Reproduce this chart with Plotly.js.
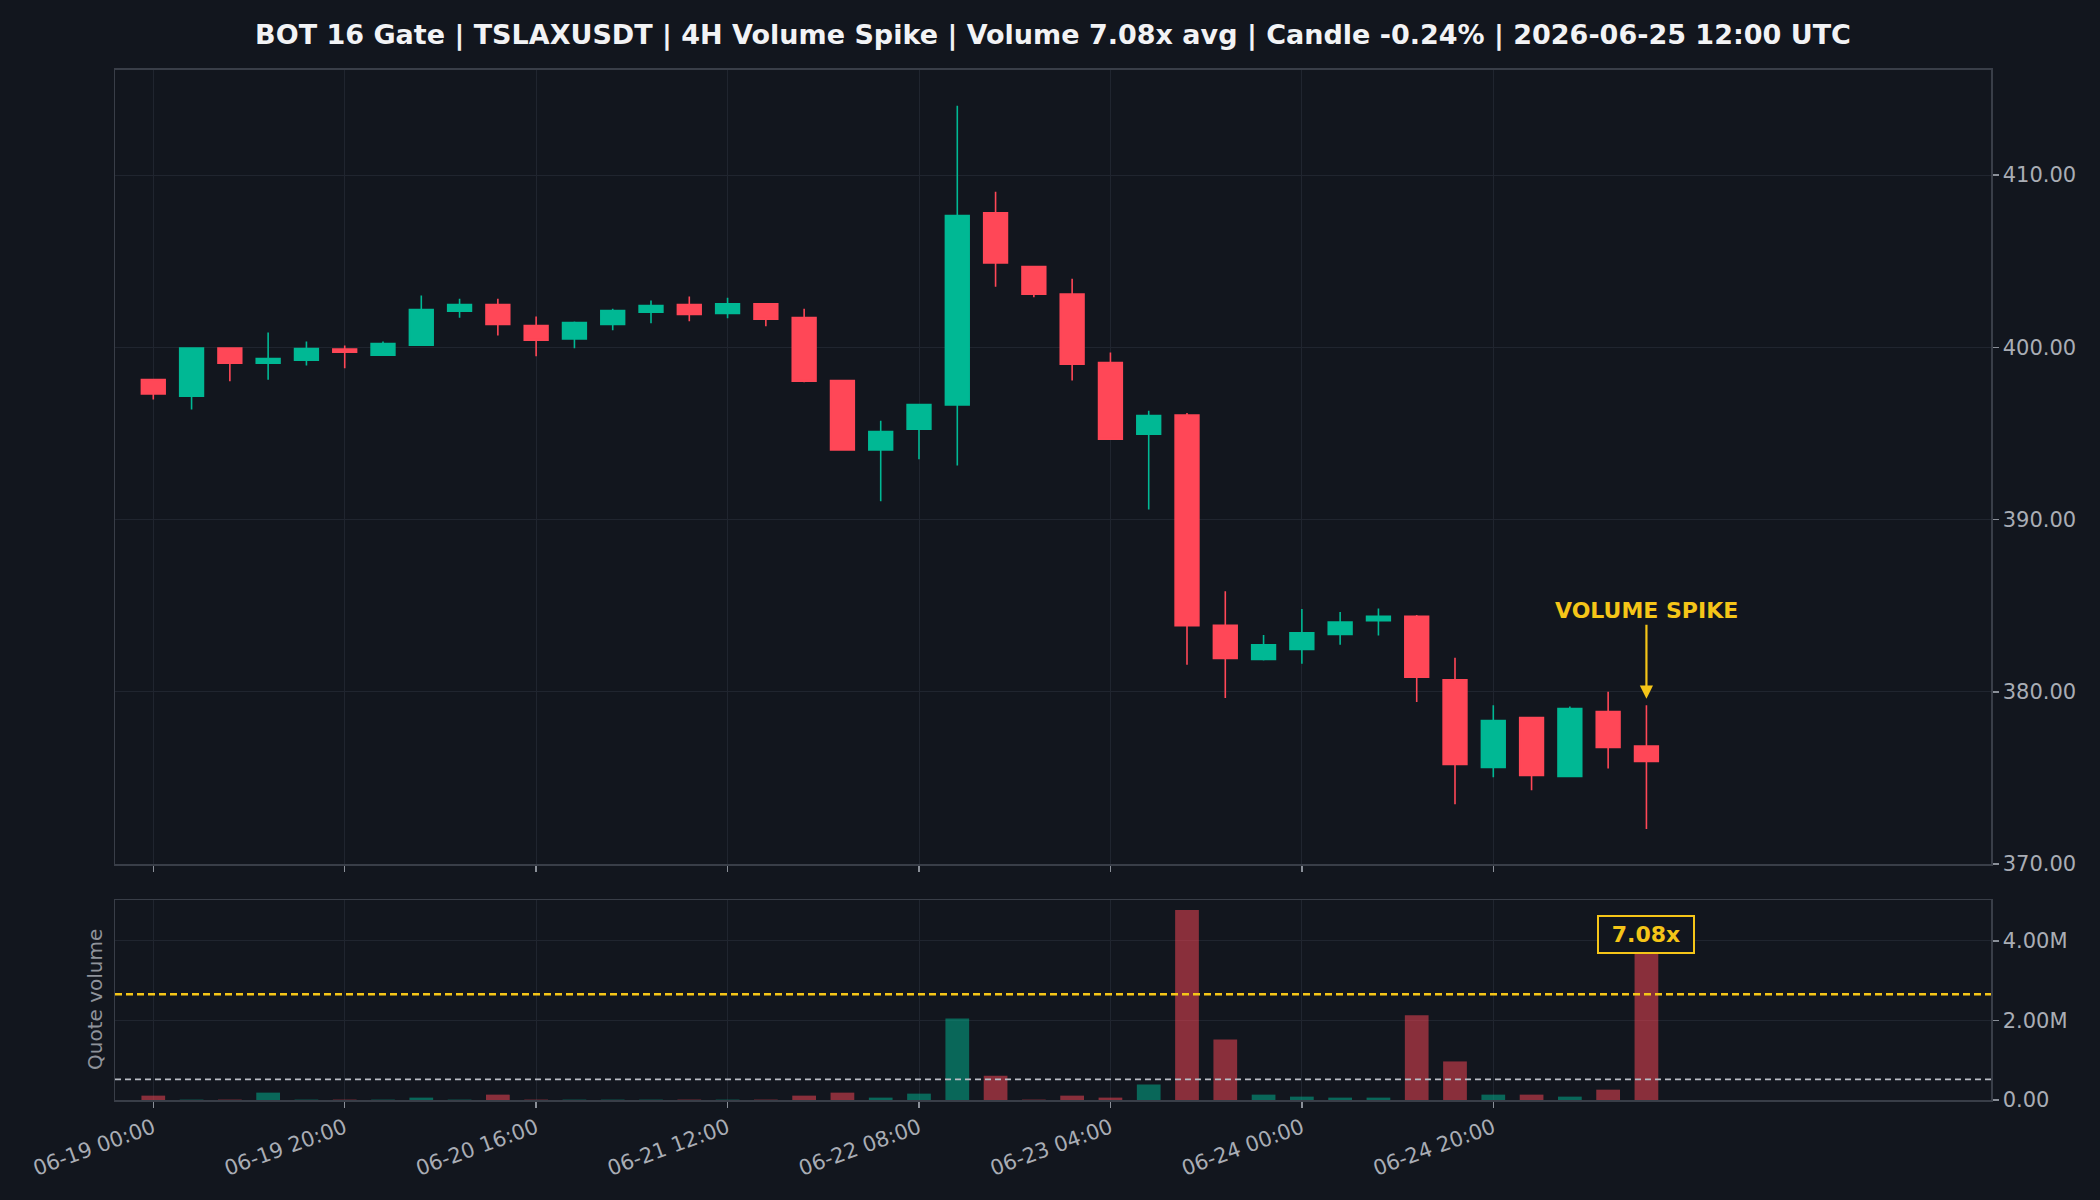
<!DOCTYPE html>
<html>
<head>
<meta charset="utf-8">
<script src="https://cdn.plot.ly/plotly-3.0.1.min.js"></script>
<style>
  html, body { margin: 0; padding: 0; background: #12161e; }
  #chart { width: 2100px; height: 1200px; }
</style>
</head>
<body>
<div id="chart"></div>
<script>
// ---- Data ----
const times = [
  '2026-06-19 00:00','2026-06-19 04:00','2026-06-19 08:00','2026-06-19 12:00','2026-06-19 16:00',
  '2026-06-19 20:00','2026-06-20 00:00','2026-06-20 04:00','2026-06-20 08:00','2026-06-20 12:00',
  '2026-06-20 16:00','2026-06-20 20:00','2026-06-21 00:00','2026-06-21 04:00','2026-06-21 08:00',
  '2026-06-21 12:00','2026-06-21 16:00','2026-06-21 20:00','2026-06-22 00:00','2026-06-22 04:00',
  '2026-06-22 08:00','2026-06-22 12:00','2026-06-22 16:00','2026-06-22 20:00','2026-06-23 00:00',
  '2026-06-23 04:00','2026-06-23 08:00','2026-06-23 12:00','2026-06-23 16:00','2026-06-23 20:00',
  '2026-06-24 00:00','2026-06-24 04:00','2026-06-24 08:00','2026-06-24 12:00','2026-06-24 16:00',
  '2026-06-24 20:00','2026-06-25 00:00','2026-06-25 04:00','2026-06-25 08:00','2026-06-25 12:00'
];
const openP = [
  398.12,397.16,399.96,399.07,399.25,399.90,399.54,400.12,402.09,402.48,
  401.26,400.48,401.33,402.03,402.48,401.97,402.53,401.72,398.07,394.04,
  395.24,396.65,407.81,404.68,403.09,399.11,394.95,396.07,383.86,381.88,
  382.46,383.32,384.13,384.38,380.69,375.60,378.50,375.09,378.85,376.85
];
const highP = [
  398.12,399.96,399.96,400.85,400.33,400.10,400.33,403.00,402.82,402.82,
  401.78,401.49,402.24,402.71,402.94,402.88,402.53,402.24,398.07,395.74,
  396.67,414.02,409.03,404.68,403.98,399.69,396.32,396.18,385.83,383.30,
  384.80,384.63,384.84,384.45,381.98,379.21,378.50,379.14,380.00,379.21
];
const lowP = [
  396.96,396.38,398.03,398.12,398.94,398.78,399.54,400.12,401.72,400.68,
  399.48,399.94,400.99,401.39,401.51,401.68,401.22,397.97,394.04,391.06,
  393.50,393.13,403.52,402.90,398.07,394.66,390.58,381.57,379.64,381.82,
  381.63,382.73,383.26,379.40,373.47,375.03,374.28,375.03,375.55,372.03
];
const closeP = [
  397.29,399.96,399.07,399.34,399.92,399.71,400.21,402.19,402.48,401.33,
  400.41,401.43,402.13,402.42,401.91,402.53,401.63,398.03,394.04,395.11,
  396.67,407.64,404.89,403.08,399.01,394.66,396.03,383.84,381.94,382.73,
  383.42,384.05,384.38,380.84,375.78,378.33,375.14,379.02,376.76,375.95
];
const quoteVolume = [
  0.11e6,0.01e6,0.01e6,0.185e6,0.01e6,0.01e6,0.01e6,0.06e6,0.01e6,0.135e6,
  0.01e6,0.01e6,0.01e6,0.01e6,0.01e6,0.01e6,0.01e6,0.11e6,0.185e6,0.06e6,
  0.16e6,2.05e6,0.61e6,0.01e6,0.11e6,0.06e6,0.39e6,4.78e6,1.52e6,0.135e6,
  0.085e6,0.06e6,0.06e6,2.13e6,0.97e6,0.135e6,0.135e6,0.085e6,0.26e6,3.67e6
];
const avgVolume = 0.518e6;
const thresholdVolume = 2.66e6;
const spikeRatio = '7.08x';
const spikeTime = '2026-06-25 12:00';
const spikeArrowTip = 379.6;
const spikeTextLevel = 384.7;

const xTickVals = ['2026-06-19 00:00','2026-06-19 20:00','2026-06-20 16:00','2026-06-21 12:00',
                   '2026-06-22 08:00','2026-06-23 04:00','2026-06-24 00:00','2026-06-24 20:00'];
const xTickText = ['06-19 00:00','06-19 20:00','06-20 16:00','06-21 12:00',
                   '06-22 08:00','06-23 04:00','06-24 00:00','06-24 20:00'];
const priceTicks = [370, 380, 390, 400, 410];
const volTickVals = [0, 2e6, 4e6];
const volTickText = ['0.00', '2.00M', '4.00M'];
const titleText = 'BOT 16 Gate | TSLAXUSDT | 4H Volume Spike | Volume 7.08x avg | Candle -0.24% | 2026-06-25 12:00 UTC';

// ---- Style ----
const BG = '#12161e';
const UP = '#00b894';
const DOWN = '#ff4757';
const UP_VOL = 'rgba(0,184,148,0.5)';
const DOWN_VOL = 'rgba(255,71,87,0.5)';
const GRID = '#20252f';
const FRAME = '#393e48';
const TICKTXT = '#a9adb5';
const YELLOW = '#f5c518';
const FONT = 'DejaVu Sans, sans-serif';
const H4 = 4 * 3600 * 1000;

const volColors = closeP.map((c, i) => (c >= openP[i] ? UP_VOL : DOWN_VOL));

const candles = {
  type: 'candlestick',
  x: times, open: openP, high: highP, low: lowP, close: closeP,
  xaxis: 'x', yaxis: 'y',
  increasing: { line: { color: UP, width: 1.6 }, fillcolor: UP },
  decreasing: { line: { color: DOWN, width: 1.6 }, fillcolor: DOWN },
  whiskerwidth: 0,
  hoverinfo: 'skip',
  showlegend: false
};

const volumes = {
  type: 'bar',
  x: times, y: quoteVolume,
  xaxis: 'x2', yaxis: 'y2',
  width: 0.62 * H4,
  marker: { color: volColors, line: { width: 0 } },
  hoverinfo: 'skip',
  showlegend: false
};

const axisCommon = {
  showgrid: true, gridcolor: GRID, gridwidth: 1,
  showline: true, linecolor: FRAME, linewidth: 1.5, mirror: true,
  ticks: 'outside', ticklen: 6, tickwidth: 1.5, tickcolor: '#8a8f98',
  zeroline: false,
  tickfont: { family: FONT, size: 21, color: TICKTXT },
  automargin: false
};

const xRange = ['2026-06-18 20:00', '2026-06-27 00:00'];

const layout = {
  width: 2100, height: 1200,
  paper_bgcolor: BG, plot_bgcolor: BG,
  margin: { l: 115, r: 109, t: 0, b: 0 },
  font: { family: FONT, color: TICKTXT },
  title: {
    text: '<b>' + titleText + '</b>',
    x: 0.5, xref: 'paper', xanchor: 'center',
    y: 1 - 35 / 1200, yref: 'container', yanchor: 'middle',
    font: { family: FONT, size: 27, color: '#f2f3f5' }
  },
  boxgap: 0.38,
  boxgroupgap: 0,
  xaxis: Object.assign({}, axisCommon, {
    type: 'date', domain: [0, 1], anchor: 'y', range: xRange,
    tickmode: 'array', tickvals: xTickVals, ticktext: xTickText,
    showticklabels: false,
    rangeslider: { visible: false }
  }),
  yaxis: Object.assign({}, axisCommon, {
    domain: [1 - 864 / 1200, 1 - 69.6 / 1200], anchor: 'x', side: 'right',
    range: [370, 416.12], tickmode: 'array', tickvals: priceTicks, tickformat: '.2f'
  }),
  xaxis2: Object.assign({}, axisCommon, {
    type: 'date', domain: [0, 1], anchor: 'y2', range: xRange, matches: 'x',
    tickmode: 'array', tickvals: xTickVals, ticktext: xTickText,
    tickangle: -20,
    rangeslider: { visible: false }
  }),
  yaxis2: Object.assign({}, axisCommon, {
    domain: [1 - 1100 / 1200, 1 - 900 / 1200], anchor: 'x2', side: 'right',
    range: [0, 5.03e6], tickmode: 'array', tickvals: volTickVals, ticktext: volTickText
  }),
  shapes: [
    { type: 'line', xref: 'x2 domain', x0: 0, x1: 1, yref: 'y2', y0: avgVolume, y1: avgVolume,
      line: { color: '#b9bdc5', width: 1.6, dash: '6px,4px' } },
    { type: 'line', xref: 'x2 domain', x0: 0, x1: 1, yref: 'y2', y0: thresholdVolume, y1: thresholdVolume,
      line: { color: YELLOW, width: 2.4, dash: '7px,4px' } }
  ],
  annotations: [
    { xref: 'x', yref: 'y', x: spikeTime, y: spikeArrowTip,
      axref: 'x', ayref: 'y', ax: spikeTime, ay: spikeTextLevel,
      text: '<b>VOLUME SPIKE</b>', showarrow: true,
      arrowhead: 2, arrowsize: 1.2, arrowwidth: 2.2, arrowcolor: YELLOW,
      font: { family: FONT, size: 22, color: YELLOW } },
    { xref: 'x2', yref: 'y2', x: spikeTime, y: quoteVolume[39],
      yanchor: 'bottom', xanchor: 'center', showarrow: false,
      text: '<b>' + spikeRatio + '</b>',
      bgcolor: BG, bordercolor: YELLOW, borderwidth: 2, borderpad: 5, width: 84,
      font: { family: FONT, size: 22, color: YELLOW } },
    { xref: 'paper', yref: 'paper', x: (95 - 115) / 1876, y: (1200 - 1000) / 1200,
      xanchor: 'center', yanchor: 'middle', textangle: -90, showarrow: false,
      text: 'Quote volume', font: { family: FONT, size: 20, color: '#8f939b' } }
  ]
};

Plotly.newPlot('chart', [candles, volumes], layout, { staticPlot: true, displayModeBar: false });
</script>
</body>
</html>
